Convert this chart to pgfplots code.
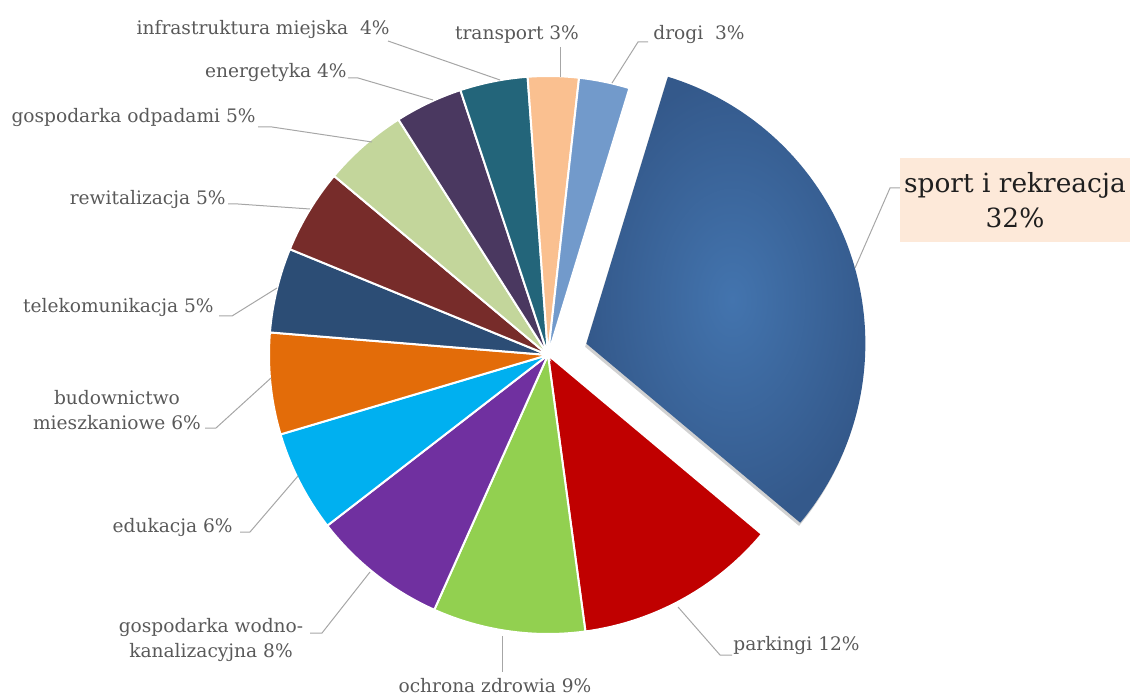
\documentclass[border=0pt]{standalone}
\usepackage{pgfplots}
\pgfplotsset{compat=1.18}
\usepackage{pgfplotstable}
\usepackage{fontspec}
\setmainfont{DejaVu Serif}

\definecolor{cSportIn}{HTML}{4374AE}
\definecolor{cSportOut}{HTML}{34598B}
\definecolor{cPark}{HTML}{C00000}
\definecolor{cZdrow}{HTML}{92D050}
\definecolor{cWodno}{HTML}{7030A0}
\definecolor{cEdu}{HTML}{00B0F0}
\definecolor{cBud}{HTML}{E36C09}
\definecolor{cTele}{HTML}{2C4D75}
\definecolor{cRewit}{HTML}{772C2A}
\definecolor{cOdpad}{HTML}{C3D69B}
\definecolor{cEnerg}{HTML}{4A3860}
\definecolor{cInfra}{HTML}{23657A}
\definecolor{cTrans}{HTML}{FAC090}
\definecolor{cDrogi}{HTML}{729ACB}
\definecolor{labtxt}{HTML}{595959}
\definecolor{leader}{HTML}{A6A6A6}
\definecolor{boxfill}{HTML}{FDE9D9}

% udzialy w %, kolejnosc zgodnie z ruchem wskazowek zegara
\pgfplotstableread{
name        value col        explode
sport       32    cSportIn   40
parkingi    12    cPark      0
zdrowie     9     cZdrow     0
wodkan      8     cWodno     0
edukacja    6     cEdu       0
budown      6     cBud       0
telekom     5     cTele      0
rewital     5     cRewit     0
odpady      5     cOdpad     0
energ       4     cEnerg     0
infra       4     cInfra     0
transport   3     cTrans     0
drogi       3     cDrogi     0
}\pietable

\begin{document}
\begin{tikzpicture}
\begin{axis}[scale only axis, width=566pt, height=348pt,
  xmin=0, xmax=1132, ymin=0, ymax=696, hide axis, clip=false]
\coordinate (bl) at (rel axis cs:0,0);
\coordinate (tr) at (rel axis cs:1,1);

\pgfplotsextra{
  \pgfplotstablegetrowsof{\pietable}
  \pgfmathtruncatemacro\nrows{\pgfplotsretval-1}
  \gdef\total{0}
  \foreach \i in {0,...,\nrows}{
    \pgfplotstablegetelem{\i}{value}\of\pietable
    \pgfmathsetmacro\t{\total+\pgfplotsretval}
    \xdef\total{\t}
  }
  \gdef\angA{73}
  \foreach \i in {0,...,\nrows}{
    \pgfplotstablegetelem{\i}{value}\of\pietable \let\v\pgfplotsretval
    \pgfplotstablegetelem{\i}{col}\of\pietable \let\c\pgfplotsretval
    \pgfplotstablegetelem{\i}{explode}\of\pietable \let\e\pgfplotsretval
    \pgfmathsetmacro\angB{\angA-\v/\total*360}
    \pgfmathsetmacro\mid{(\angA+\angB)/2}
    \pgfmathsetmacro\cx{548+\e*cos(\mid)}
    \pgfmathsetmacro\cy{341+\e*sin(\mid)}
    \ifdim\e pt>0pt
      \fill[black, opacity=0.18, xshift=-0.6pt, yshift=-1.6pt]
        (axis cs:\cx,\cy) -- ++(\angA:139.5pt)
        arc[start angle=\angA, end angle=\angB, radius=139.5pt] -- cycle;
      \shade[inner color=cSportIn, outer color=cSportOut]
        (axis cs:\cx,\cy) -- ++(\angA:139.5pt)
        arc[start angle=\angA, end angle=\angB, radius=139.5pt] -- cycle;
    \else
      \filldraw[fill=\c, draw=white, line width=1pt]
        (axis cs:\cx,\cy) -- ++(\angA:139.5pt)
        arc[start angle=\angA, end angle=\angB, radius=139.5pt] -- cycle;
    \fi
    \xdef\angA{\angB}
  }
}

% linie odniesienia
\draw[leader, line width=0.5pt] (axis cs:388,655) -- (axis cs:500,616);
\draw[leader, line width=0.5pt] (axis cs:560,649) -- (axis cs:560,619);
\draw[leader, line width=0.5pt] (axis cs:648,654) -- (axis cs:638,654) -- (axis cs:612,613);
\draw[leader, line width=0.5pt] (axis cs:348,618) -- (axis cs:358,618) -- (axis cs:433,596);
\draw[leader, line width=0.5pt] (axis cs:258,569) -- (axis cs:272,569) -- (axis cs:372,554);
\draw[leader, line width=0.5pt] (axis cs:228,492) -- (axis cs:238,492) -- (axis cs:310,487);
\draw[leader, line width=0.5pt] (axis cs:219,380) -- (axis cs:232,380) -- (axis cs:277,408);
\draw[leader, line width=0.5pt] (axis cs:205,268) -- (axis cs:216,268) -- (axis cs:271,318);
\draw[leader, line width=0.5pt] (axis cs:240,164) -- (axis cs:250,164) -- (axis cs:298,220);
\draw[leader, line width=0.5pt] (axis cs:310,63) -- (axis cs:322,63) -- (axis cs:370,124);
\draw[leader, line width=0.5pt] (axis cs:502,24) -- (axis cs:502,60);
\draw[leader, line width=0.5pt] (axis cs:732,41) -- (axis cs:720,41) -- (axis cs:678,89);
\draw[leader, line width=0.5pt] (axis cs:900,508) -- (axis cs:890,508) -- (axis cs:855,428);

% etykiety
\begin{scope}[every node/.style={inner sep=0pt, text=labtxt, font=\fontsize{9.3}{12.5}\selectfont}]
\node[anchor=east] at (axis cs:390,666) {infrastruktura miejska\ \ 4\%};
\node at (axis cs:517,661) {transport 3\%};
\node[anchor=west] at (axis cs:653,661) {drogi\ \ 3\%};
\node[anchor=east] at (axis cs:347,623) {energetyka 4\%};
\node[anchor=east] at (axis cs:256,578) {gospodarka odpadami 5\%};
\node[anchor=east] at (axis cs:226,496) {rewitalizacja 5\%};
\node[anchor=east] at (axis cs:214,388) {telekomunikacja 5\%};
\node[align=center] at (axis cs:117,286) {budownictwo\\mieszkaniowe 6\%};
\node[anchor=east] at (axis cs:233,169) {edukacja 6\%};
\node[align=center] at (axis cs:211,56) {gospodarka wodno-\\kanalizacyjna 8\%};
\node at (axis cs:495,10) {ochrona zdrowia 9\%};
\node[anchor=west] at (axis cs:733,51) {parkingi 12\%};
\end{scope}
\fill[boxfill] (axis cs:900,454) rectangle (axis cs:1130,538);
\node[inner sep=0pt, align=center, text=black!88, font=\fontsize{13.2}{17.5}\selectfont]
  at (axis cs:1015,496) {sport i rekreacja\\32\%};
\end{axis}
\pgfresetboundingbox
\path (bl) rectangle (tr);
\end{tikzpicture}
\end{document}
